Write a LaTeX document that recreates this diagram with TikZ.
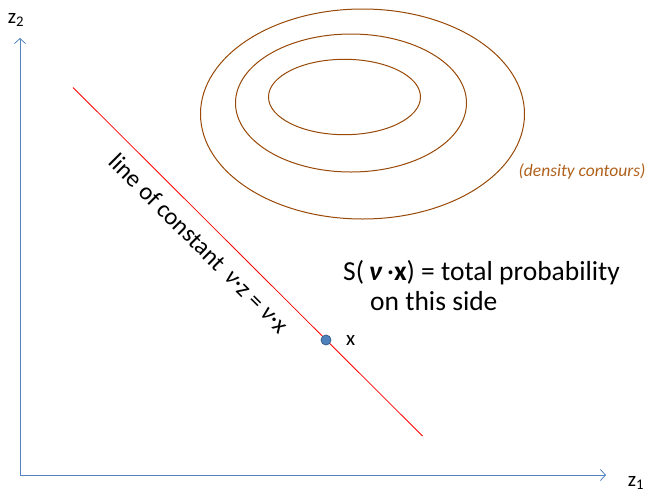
\documentclass[tikz,border=0pt]{standalone}
\usepackage{fontspec}
\setmainfont{Carlito}
\usetikzlibrary{arrows.meta}
\definecolor{axisblue}{HTML}{4F81BD}
\definecolor{dotedge}{HTML}{385D8A}
\definecolor{contour}{HTML}{984807}
\definecolor{contourtext}{HTML}{B0601A}
\tikzset{
  axis/.style={draw=axisblue, line width=0.8pt, -{Straight Barb[length=5pt,width=11pt,line width=0.8pt]}},
  contourline/.style={draw=contour, line width=1pt},
  label/.style={inner sep=0pt, font=\fontsize{21}{25}\selectfont},
  bigtext/.style={inner sep=0pt, anchor=base west, font=\fontsize{27.5}{33}\selectfont},
}
\begin{document}
\begin{tikzpicture}[x=1pt,y=-1pt]
\useasboundingbox (0,0) rectangle (649,496);
% axes
\coordinate (O) at (20,475);
\coordinate (Ytip) at (20,38);
\coordinate (Xtip) at (606,475);
\draw[axis] (O) -- (Ytip);
\draw[axis] (O) -- (Xtip);
\node[label] (z2) at (16,20) {z\textsubscript{2}};
\node[label] (z1) at (636,483) {z\textsubscript{1}};
% contours
\draw[contourline] (362.5,114) ellipse [x radius=162, y radius=105];
\draw[contourline] (351,103) ellipse [x radius=115.5, y radius=69];
\draw[contourline] (344.5,97) ellipse [x radius=76, y radius=37.7];
\node[inner sep=0pt, text=contourtext, font=\fontsize{17.5}{21}\selectfont\itshape] (dens) at (582,172) {(density contours)};
% red line
\coordinate (A) at (73,87.5);
\coordinate (B) at (422.5,436);
\draw[red, line width=0.8pt] (A) -- (B)
  node[pos=0.404, sloped, below=12pt, inner sep=0pt, text=black, font=\fontsize{24.5}{29}\selectfont] (lbl) {line of constant \,\textit{ν}·z = \textit{ν}·x};
% point x
\node[circle, fill=axisblue, draw=dotedge, line width=0.8pt, minimum size=10pt, inner sep=0pt] (xpt) at (326,340) {};
\node[label, anchor=west] (xl) at (346,340) {x};
% S text
\node[bigtext] (S1) at (343,280) {S(\,\textbf{\textit{ν}}\,·\textbf{x}) = total probability};
\node[bigtext] (S2) at (370,310) {on this side};
\end{tikzpicture}
\end{document}
